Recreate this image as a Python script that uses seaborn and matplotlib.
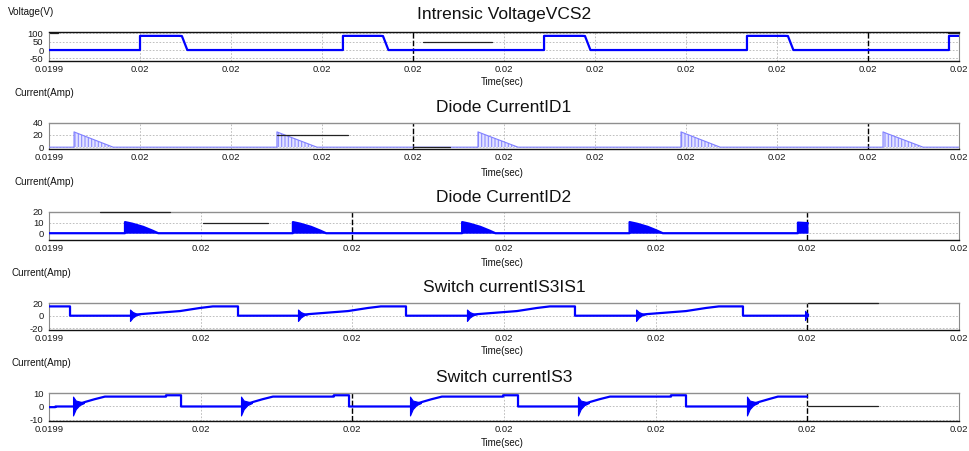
import numpy as np
import pandas as pd
import matplotlib
matplotlib.use("Agg")
import matplotlib.pyplot as plt
import seaborn as sns

sns.set_theme(style="white")
plt.rcParams['font.family'] = ['Liberation Sans', 'DejaVu Sans']
plt.rcParams['hatch.linewidth'] = 0.8

# ---------------- data (time in microseconds after 0.0199 s) ----------------
xtick_labels_11 = ["0.0199"] + ["0.02"] * 10
xtick_labels_7 = ["0.0199"] + ["0.02"] * 6

# Intrensic Voltage VCS2 (V)
vcs2_t = [0, 10.0, 10.0, 14.3, 14.6, 15.2, 32.3, 32.3, 36.4, 36.7, 37.3,
          54.4, 54.4, 58.6, 58.9, 59.5, 76.7, 76.7, 80.9, 81.2, 81.8, 98.9, 98.9, 100]
vcs2_v = [0, 0, 85, 85, 84, 0, 0, 85, 85, 84, 0,
          0, 85, 85, 84, 0, 0, 85, 85, 84, 0, 0, 85, 85]

# Diode current ID1 (A)
id1_t = [0, 2.75, 2.75, 3.25, 7.05, 25.05, 25.05, 25.55, 29.45, 47.14, 47.14, 47.64, 51.54,
         69.45, 69.45, 69.95, 73.75, 91.65, 91.65, 92.15, 96.05, 100]
id1_i = [0, 0, 25, 22, 0, 0, 25, 22, 0, 0, 25, 22, 0,
         0, 25, 22, 0, 0, 25, 22, 0, 0]

# Diode current ID2 (A)
id2_t = [0, 8.35, 8.35, 9.15, 10.35, 11.35, 12.0,
         26.8, 26.8, 27.6, 28.8, 29.8, 30.45,
         45.4, 45.4, 46.2, 47.4, 48.4, 49.05,
         63.8, 63.8, 64.6, 65.8, 66.8, 67.45,
         82.3, 82.3, 83.4]
id2_i = [0, 0, 10.5, 9, 6, 2.5, 0,
         0, 10.5, 9, 6, 2.5, 0,
         0, 10.5, 9, 6, 2.5, 0,
         0, 10.5, 9, 6, 2.5, 0,
         0, 10, 9.5]

# Switch current IS3IS1 (A)
is31_t = [0, 2.31, 2.31, 8.90, 10.0, 14.4, 16.6, 18.0, 20.77, 20.77,
          27.36, 28.46, 32.86, 35.06, 36.46, 39.23, 39.23,
          45.93, 47.03, 51.43, 53.63, 55.03, 57.80, 57.80,
          64.51, 65.61, 70.01, 72.21, 73.61, 76.26, 76.26, 83.08, 83.41]
is31_i = [15, 15, 0, 0, 2.5, 7.5, 12.5, 15, 15, 0,
          0, 2.5, 7.5, 12.5, 15, 15, 0,
          0, 2.5, 7.5, 12.5, 15, 15, 0,
          0, 2.5, 7.5, 12.5, 15, 15, 0, 0, 1]
# ringing envelopes at switching instants
is31_ring_t = [[8.90, 9.20, 9.60, 10.0], [27.36, 27.66, 28.06, 28.46],
               [45.93, 46.23, 46.63, 47.03], [64.51, 64.81, 65.21, 65.61],
               [83.08, 83.25, 83.41]]
is31_ring_hi = [[10, 6, 3.5, 2.5], [10, 6, 3.5, 2.5], [10, 6, 3.5, 2.5],
                [10, 6, 3.5, 2.5], [8, 5, 3]]
is31_ring_lo = [[-8.5, -3, 1, 2.5], [-8.5, -3, 1, 2.5], [-8.5, -3, 1, 2.5],
                [-8.5, -3, 1, 2.5], [-7, -2, 0]]

# Switch current IS3 (A)
is3_t = [0, 0.7, 0.7, 2.64, 3.3, 4.0, 5.0, 6.15, 12.86, 12.86, 14.51, 14.51,
         21.10, 21.76, 22.46, 23.46, 24.61, 31.3, 31.3, 32.97, 32.97,
         39.67, 40.33, 41.03, 42.03, 43.18, 49.9, 49.9, 51.54, 51.54,
         58.13, 58.79, 59.49, 60.49, 61.64, 68.35, 68.35, 70.0, 70.0,
         76.7, 77.36, 78.06, 79.06, 80.1, 83.3]
is3_i = [-0.5, -0.5, 0, 0, 2, 3.5, 5.5, 7.5, 7.5, 8.5, 8.5, 0,
         0, 2, 3.5, 5.5, 7.5, 7.5, 8.5, 8.5, 0,
         0, 2, 3.5, 5.5, 7.5, 7.5, 8.5, 8.5, 0,
         0, 2, 3.5, 5.5, 7.5, 7.5, 8.5, 8.5, 0,
         0, 2, 3.5, 5.5, 7.5, 7.5]
is3_ring_t = [[2.64, 2.94, 3.34, 3.84], [21.10, 21.40, 21.80, 22.30],
              [39.67, 39.97, 40.37, 40.87], [58.13, 58.43, 58.83, 59.33],
              [76.7, 77.0, 77.4, 77.9]]
is3_ring_hi = [[7.5, 4.5, 3.8, 3.0]] * 5
is3_ring_lo = [[-6.8, -2.0, 1.0, 2.6]] * 5

# ---------------- layout ----------------
W, H = 970, 451
fig = plt.figure(figsize=(W / 100, H / 100), dpi=100)

BLUE = "#0000ff"
GRID = "#b4b4b4"

panels = [
    dict(top=31.7, bottom=60.7, ylim=(-64, 110), yticks=[100, 50, 0, -50], nx=11,
         title="Intrensic VoltageVCS2", ty=15, ylab="Voltage(V)", lx=8, ly=12, xly=82, dark=[4, 9],
         seg=[(50, 41.1, 48.7), (100, 98.8, 100), (100, 0.1, 1.0)], topcol="#111111"),
    dict(top=122.7, bottom=149, ylim=(-3, 40), yticks=[40, 20, 0], nx=11,
         title="Diode CurrentID1", ty=107, ylab="Current(Amp)", lx=15, ly=93, xly=173, dark=[4, 9],
         seg=[(20, 25.05, 32.9), (0, 40.0, 44.1)], topcol="#8f8f8f"),
    dict(top=212, bottom=240, ylim=(-6.4, 20), yticks=[20, 10, 0], nx=7,
         title="Diode CurrentID2", ty=198, ylab="Current(Amp)", lx=15, ly=182, xly=263, dark=[2, 5],
         seg=[(20, 5.6, 13.3), (10, 16.9, 24.1)], topcol="#8f8f8f"),
    dict(top=303.3, bottom=330, ylim=(-23, 20), yticks=[20, 0, -20], nx=7,
         title="Switch currentIS3IS1", ty=287, ylab="Current(Amp)", lx=12, ly=273, xly=351, dark=[5],
         seg=[(20, 83.4, 91.1)], topcol="#8f8f8f"),
    dict(top=393.3, bottom=421, ylim=(-11, 10), yticks=[10, 0, -10], nx=7,
         title="Switch currentIS3", ty=377, ylab="Current(Amp)", lx=12, ly=363, xly=443, dark=[2, 5],
         seg=[(0, 83.4, 91.1)], topcol="#8f8f8f"),
]

axes = []
for p in panels:
    ax = fig.add_axes([49 / W, 1 - p["bottom"] / H, 910 / W, (p["bottom"] - p["top"]) / H])
    ax.set_xlim(0, 100)
    ax.set_ylim(*p["ylim"])
    xt = np.linspace(0, 100, p["nx"])
    ax.set_xticks(xt)
    ax.set_xticklabels(xtick_labels_11 if p["nx"] == 11 else xtick_labels_7)
    ax.set_yticks(p["yticks"])
    ax.set_yticklabels([str(v) for v in p["yticks"]])
    ax.tick_params(axis="both", length=0, labelsize=6.8, colors="#1a1a1a")
    ax.tick_params(axis="x", pad=3.2)
    ax.tick_params(axis="y", pad=4)
    ax.set_axisbelow(True)
    for i, x in enumerate(xt):
        if i in p["dark"]:
            ax.axvline(x, color="black", lw=1.0, ls=(0, (4, 1.5)), zorder=1)
        elif 0 < i < len(xt) - 1:
            ax.axvline(x, color=GRID, lw=0.6, ls=(0, (2, 2)), zorder=0)
    for y in p["yticks"]:
        ax.axhline(y, color=GRID, lw=0.6, ls=(0, (2, 2)), zorder=0)
    for (yy, x0, x1) in p["seg"]:
        ax.plot([x0, x1], [yy, yy], color="#222222", lw=0.9, zorder=4, clip_on=False)
    for side in ["left", "right"]:
        ax.spines[side].set_color("#8a8a8a")
        ax.spines[side].set_linewidth(0.8)
    ax.spines["top"].set_color(p["topcol"])
    ax.spines["top"].set_linewidth(1.0)
    ax.spines["bottom"].set_color("#111111")
    ax.spines["bottom"].set_linewidth(1.0)
    fig.text(504 / W, 1 - p["ty"] / H, p["title"], ha="center", va="center", fontsize=12.5, color="#111111")
    fig.text(p["lx"] / W, 1 - p["ly"] / H, p["ylab"], ha="left", va="center", fontsize=7.1, color="#111111")
    fig.text(502 / W, 1 - p["xly"] / H, "Time(sec)", ha="center", va="center", fontsize=7, color="#111111")
    axes.append(ax)

# Panel 1: VCS2
d1 = pd.DataFrame({"t": vcs2_t, "v": vcs2_v})
sns.lineplot(data=d1, x="t", y="v", ax=axes[0], sort=False, estimator=None, color=BLUE, lw=1.6, zorder=3)

# Panel 2: ID1 (hatched high-frequency conduction)
d2 = pd.DataFrame({"t": id1_t, "i": id1_i})
axes[1].fill_between(d2["t"], 0, d2["i"], facecolor="#e4e4ff", edgecolor="#8c8cff", hatch="|" * 5, lw=0, zorder=2)
sns.lineplot(data=d2, x="t", y="i", ax=axes[1], sort=False, estimator=None, color="#8080ff", lw=0.8, zorder=3)

# Panel 3: ID2
d3 = pd.DataFrame({"t": id2_t, "i": id2_i})
axes[2].fill_between(d3["t"], 0, d3["i"], color=BLUE, lw=0, zorder=2)
sns.lineplot(data=d3, x="t", y="i", ax=axes[2], sort=False, estimator=None, color=BLUE, lw=1.6, zorder=3)

# Panel 4: IS3IS1
d4 = pd.DataFrame({"t": is31_t, "i": is31_i})
sns.lineplot(data=d4, x="t", y="i", ax=axes[3], sort=False, estimator=None, color=BLUE, lw=1.6, zorder=3)
for rt, hi, lo in zip(is31_ring_t, is31_ring_hi, is31_ring_lo):
    axes[3].fill_between(rt, lo, hi, color=BLUE, lw=0.8, zorder=3)

# Panel 5: IS3
d5 = pd.DataFrame({"t": is3_t, "i": is3_i})
sns.lineplot(data=d5, x="t", y="i", ax=axes[4], sort=False, estimator=None, color=BLUE, lw=1.6, zorder=3)
for rt, hi, lo in zip(is3_ring_t, is3_ring_hi, is3_ring_lo):
    axes[4].fill_between(rt, lo, hi, color=BLUE, lw=0.8, zorder=3)

for ax in axes:
    ax.set_xlabel("")
    ax.set_ylabel("")
    if ax.get_legend() is not None:
        ax.get_legend().remove()

fig.savefig("out.png", dpi=100)
